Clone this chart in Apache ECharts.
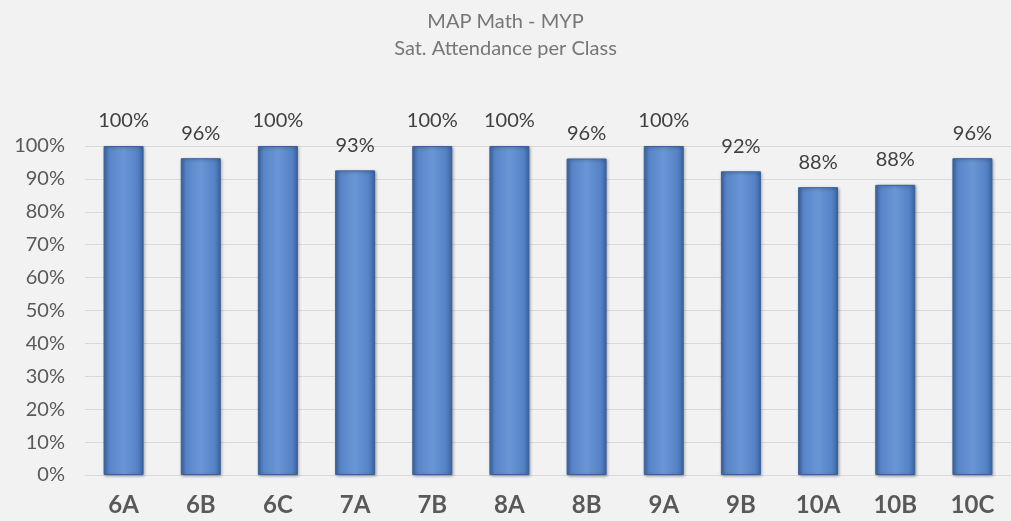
<!DOCTYPE html>
<html><head><meta charset="utf-8">
<script src="https://cdn.jsdelivr.net/npm/echarts@6/dist/echarts.min.js"></script>
<style>html,body{margin:0;padding:0;background:#f2f2f2}#c{width:1011px;height:521px}</style>
</head><body><div id="c"></div>
<script>
const categories = ['6A','6B','6C','7A','7B','8A','8B','9A','9B','10A','10B','10C'];
const attendance = [100, 96.3, 100, 92.6, 100, 100, 96.2, 100, 92.3, 87.5, 88.2, 96.3];
const titleLines = ['MAP Math - MYP', 'Sat. Attendance per Class'];

const chart = echarts.init(document.getElementById('c'));
const F = 'Lato, "Open Sans", sans-serif';
chart.setOption({
  backgroundColor: '#f2f2f2',
  title: {
    text: titleLines.join('\n'),
    left: 'center', top: 3,
    textStyle: {fontFamily: F, fontSize: 20, fontWeight: 'normal', color: '#767676', lineHeight: 27}
  },
  grid: {left: 85, top: 146, width: 940, height: 329},
  xAxis: {
    type: 'category', data: categories,
    axisLine: {lineStyle: {color: '#d9d9d9', width: 1}},
    axisTick: {show: false},
    axisLabel: {fontFamily: F, fontSize: 24, fontWeight: 'bold', color: '#595959', margin: 18}
  },
  yAxis: {
    type: 'value', min: 0, max: 100, interval: 10,
    axisLabel: {formatter: '{value}%', fontFamily: F, fontSize: 20, color: '#595959', margin: 20},
    splitLine: {lineStyle: {color: '#d9d9d9'}},
    axisLine: {show: false}, axisTick: {show: false}
  },
  series: [{
    type: 'bar', data: attendance, barWidth: 40,
    itemStyle: {
      color: new echarts.graphic.LinearGradient(0,0,1,0,[
        {offset:0,color:'#3f69a8'},{offset:0.15,color:'#5885c8'},
        {offset:0.5,color:'#6a96d6'},{offset:0.85,color:'#5482c5'},{offset:1,color:'#3a64a2'}]),
      borderColor: '#3b619b', borderWidth: 1,
      shadowColor: 'rgba(0,0,0,0.35)', shadowBlur: 3, shadowOffsetX: 1, shadowOffsetY: 1
    },
    label: {
      show: true, position: 'top', distance: 15,
      formatter: p => Math.round(p.value) + '%',
      fontFamily: F, fontSize: 20, color: '#404040'
    }
  }]
});
</script></body></html>
